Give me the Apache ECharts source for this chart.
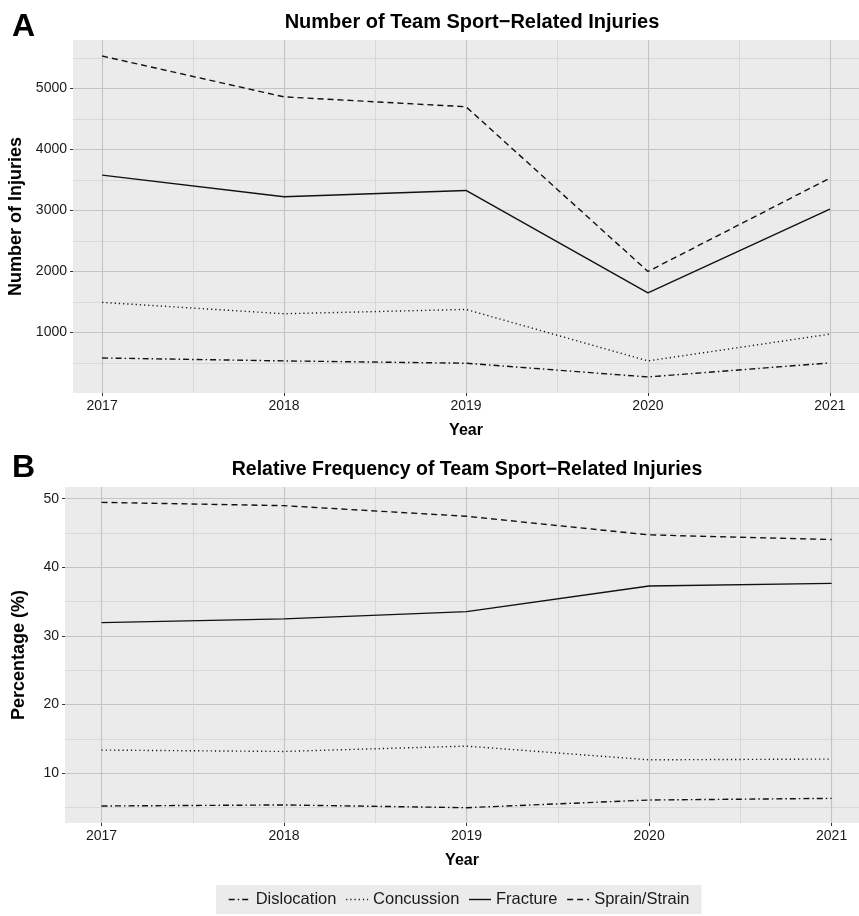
<!DOCTYPE html>
<html><head><meta charset="utf-8">
<script src="https://cdn.jsdelivr.net/npm/echarts@6/dist/echarts.min.js"></script>
<style>html,body{margin:0;padding:0;background:#fff}#c{width:859px;height:916px}</style>
</head><body><div id="c"></div>
<script>
const years = [2017, 2018, 2019, 2020, 2021];
const yearMinor = [2017.5, 2018.5, 2019.5, 2020.5];
const seriesNames = ['Dislocation', 'Concussion', 'Fracture', 'Sprain/Strain'];
const countDislocation = [582, 534, 496, 271, 501];
const countConcussion = [1493, 1307, 1378, 534, 973];
const countFracture = [3580, 3224, 3328, 1650, 3022];
const countSprain = [5531, 4862, 4700, 2000, 3530];
const pctDislocation = [5.2, 5.35, 4.95, 6.07, 6.31];
const pctConcussion = [13.35, 13.15, 13.93, 11.93, 12.04];
const pctFracture = [31.93, 32.47, 33.53, 37.27, 37.65];
const pctSprain = [49.46, 48.98, 47.43, 44.72, 44.04];
const countTicks = [1000, 2000, 3000, 4000, 5000];
const countMinor = [500, 1500, 2500, 3500, 4500, 5500];
const pctTicks = [10, 20, 30, 40, 50];
const pctMinor = [5, 15, 25, 35, 45];

const FONT = 'Liberation Sans, Arial, Helvetica, sans-serif';
const TXT = '#1a1a1a';
const LINE = '#111';
const dashStyles = {
  'Dislocation': [6, 3, 1.5, 3],
  'Concussion': [1.2, 3],
  'Fracture': 'solid',
  'Sprain/Strain': [6, 4]
};
function pairs(vals) { return years.map((y, i) => [y, vals[i]]); }

const countData = [countDislocation, countConcussion, countFracture, countSprain];
const pctData = [pctDislocation, pctConcussion, pctFracture, pctSprain];

function majorX(gridIndex, min, max) {
  return {
    type: 'value', gridIndex, min, max,
    axisLine: { show: false },
    axisTick: { show: true, length: 3, lineStyle: { color: '#333' }, customValues: years },
    axisLabel: { customValues: years, color: TXT, fontSize: 14, fontFamily: FONT, margin: 6, formatter: v => String(v) },
    splitLine: { show: true, lineStyle: { color: '#c4c4c4', width: 1.1 } },
    name: 'Year', nameLocation: 'middle', nameGap: 30,
    nameTextStyle: { fontWeight: 'bold', fontSize: 16, fontFamily: FONT, color: '#000' }
  };
}
function minorX(gridIndex, min, max) {
  return {
    type: 'value', gridIndex, min, max, position: 'bottom',
    axisLine: { show: false },
    axisTick: { show: false, customValues: yearMinor },
    axisLabel: { show: false, customValues: yearMinor },
    splitLine: { show: true, lineStyle: { color: '#d3d3d3', width: 0.8 } }
  };
}
function majorY(gridIndex, min, max, ticks, name, gap) {
  return {
    type: 'value', gridIndex, min, max,
    axisLine: { show: false },
    axisTick: { show: true, length: 3, lineStyle: { color: '#333' }, customValues: ticks },
    axisLabel: { customValues: ticks, color: TXT, fontSize: 14, fontFamily: FONT, margin: 6, formatter: v => String(v) },
    splitLine: { show: true, lineStyle: { color: '#c4c4c4', width: 1.1 } },
    name, nameLocation: 'middle', nameGap: gap,
    nameTextStyle: { fontWeight: 'bold', fontSize: 18, fontFamily: FONT, color: '#000' }
  };
}
function minorY(gridIndex, min, max, ticks) {
  return {
    type: 'value', gridIndex, min, max, position: 'left',
    axisLine: { show: false },
    axisTick: { show: false, customValues: ticks },
    axisLabel: { show: false, customValues: ticks },
    splitLine: { show: true, lineStyle: { color: '#d3d3d3', width: 0.8 } }
  };
}

const series = [];
seriesNames.forEach((n, i) => {
  [[0, countData[i]], [2, pctData[i]]].forEach(([ax, vals]) => {
    series.push({
      name: n, type: 'line', xAxisIndex: ax, yAxisIndex: ax, data: pairs(vals),
      symbol: 'none', z: 5, color: LINE,
      itemStyle: { color: LINE },
      lineStyle: { color: LINE, width: 1.4, type: dashStyles[n] }
    });
  });
});

const chart = echarts.init(document.getElementById('c'), null, { renderer: 'canvas' });
chart.setOption({
  animation: false,
  backgroundColor: '#fff',
  grid: [
    { left: 73, top: 40, right: 0, height: 353, backgroundColor: '#ebebeb', show: true, borderWidth: 0, outerBoundsMode: 'none', containLabel: false },
    { left: 65, top: 487, right: 0, height: 336, backgroundColor: '#ebebeb', show: true, borderWidth: 0, outerBoundsMode: 'none', containLabel: false }
  ],
  xAxis: [
    majorX(0, 2016.84, 2021.16),
    minorX(0, 2016.84, 2021.16),
    majorX(1, 2016.8, 2021.15),
    minorX(1, 2016.8, 2021.15)
  ],
  yAxis: [
    majorY(0, 8, 5794, countTicks, 'Number of Injuries', 45),
    minorY(0, 8, 5794, countMinor),
    majorY(1, 2.72, 51.7, pctTicks, 'Percentage (%)', 37),
    minorY(1, 2.72, 51.7, pctMinor)
  ],
  legend: {
    show: true,
    data: seriesNames,
    orient: 'horizontal',
    top: 885, left: 216,
    backgroundColor: '#ebebeb',
    padding: [6, 12, 6, 12],
    itemWidth: 22, itemHeight: 14, itemGap: 9,
    itemStyle: { color: 'rgba(0,0,0,0)', borderColor: 'rgba(0,0,0,0)', borderWidth: 0, opacity: 0 },
    lineStyle: { color: LINE, width: 1.4 },
    textStyle: { fontSize: 16.5, fontFamily: FONT, color: TXT }
  },
  graphic: [
    { type: 'text', left: 12, top: 11, style: { text: 'A', font: 'bold 32px ' + FONT, fill: '#000' } },
    { type: 'text', left: 12, top: 452, style: { text: 'B', font: 'bold 32px ' + FONT, fill: '#000' } },
    { type: 'text', x: 472, y: 22, style: { text: 'Number of Team Sport\u2212Related Injuries', font: 'bold 20px ' + FONT, fill: '#000', textAlign: 'center', textVerticalAlign: 'middle' } },
    { type: 'text', x: 467, y: 470, style: { text: 'Relative Frequency of Team Sport\u2212Related Injuries', font: 'bold 19.5px ' + FONT, fill: '#000', textAlign: 'center', textVerticalAlign: 'middle' } }
  ],
  series
});
</script></body></html>
